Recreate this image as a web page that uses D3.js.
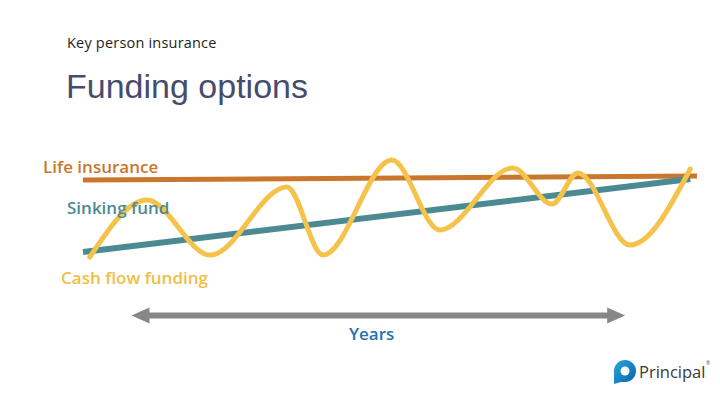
<!DOCTYPE html>
<html><head><meta charset="utf-8">
<script src="https://cdn.jsdelivr.net/npm/d3@7"></script>
<style>html,body{margin:0;padding:0;background:#fff;}svg{display:block;}</style>
</head><body>
<svg id="chart" width="720" height="405"></svg>
<script>
// ---- data ----
const timeDomain = [0, 100];
const valueDomain = [0, 100];
const lifeInsuranceT = [0, 100];
const lifeInsuranceV = [72.7, 76.4];
const sinkingFundT = [0, 98.9];
const sinkingFundV = [7.3, 73.6];
const cashFlowT = [1.1, 10.4, 20.7, 33.2, 39.1, 50.3, 58.1, 70.0, 76.4, 80.6, 89.1, 98.9];
const cashFlowV = [2.7, 54.5, 4.5, 66.4, 4.5, 90.9, 27.3, 83.6, 50.9, 79.1, 13.6, 82.7];
const seriesNames = ["Life insurance", "Sinking fund", "Cash flow funding"];
const axisLabel = "Years";
const yearsSpan = [7.9, 88.3];

const svg = d3.select("#chart");
const x = d3.scaleLinear().domain(timeDomain).range([83, 697]);
const y = d3.scaleLinear().domain(valueDomain).range([260, 150]);

// header
svg.append("text").attr("x", 67).attr("y", 48).text("Key person insurance")
  .attr("font-family", "Open Sans, sans-serif").attr("font-size", 14.5).attr("letter-spacing", 0.2).attr("fill", "#1e1e24");
svg.append("text").attr("x", 66).attr("y", 98).text("Funding options")
  .attr("font-family", "Liberation Sans, Arial, sans-serif").attr("font-size", 34).attr("fill", "#474c6d");

const line = d3.line().x(d => x(d[0])).y(d => y(d[1]));
const colors = ["#C8772C", "#4B8A93", "#F5C34B"];

svg.append("path").datum(d3.zip(lifeInsuranceT, lifeInsuranceV)).attr("d", line)
  .attr("fill", "none").attr("stroke", colors[0]).attr("stroke-width", 5);
svg.append("path").datum(d3.zip(sinkingFundT, sinkingFundV)).attr("d", line)
  .attr("fill", "none").attr("stroke", colors[1]).attr("stroke-width", 6);
svg.append("path").datum(d3.zip(cashFlowT, cashFlowV))
  .attr("d", line.curve(d3.curveMonotoneX))
  .attr("fill", "none").attr("stroke", colors[2]).attr("stroke-width", 5).attr("stroke-linecap", "round");

// series labels
const labelPos = [[43, 173], [67, 214], [61, 284]];
seriesNames.forEach((n, i) => {
  svg.append("text").attr("x", labelPos[i][0]).attr("y", labelPos[i][1]).text(n)
    .attr("font-family", "Open Sans, sans-serif").attr("font-weight", 600)
    .attr("font-size", 17).attr("fill", i === 2 ? "#F2BE45" : colors[i]);
});

// years arrow
const ay = 315.5;
const x0 = x(yearsSpan[0]), x1 = x(yearsSpan[1]);
svg.append("line").attr("x1", x0 + 10).attr("x2", x1 - 10).attr("y1", ay).attr("y2", ay)
  .attr("stroke", "#878787").attr("stroke-width", 6);
svg.append("path").attr("d", `M${x0},${ay} L${x0 + 18},${ay - 8} L${x0 + 18},${ay + 8} Z`).attr("fill", "#878787");
svg.append("path").attr("d", `M${x1},${ay} L${x1 - 18},${ay - 8} L${x1 - 18},${ay + 8} Z`).attr("fill", "#878787");
svg.append("text").attr("x", 349).attr("y", 340).text(axisLabel)
  .attr("font-family", "Open Sans, sans-serif").attr("font-weight", 600)
  .attr("font-size", 17).attr("fill", "#1F73B0");

// logo
const g = svg.append("g").attr("transform", "translate(625,371)");
const grad = svg.append("defs").append("linearGradient").attr("id", "lg").attr("x1", 0).attr("y1", 0).attr("x2", 1).attr("y2", 1);
grad.append("stop").attr("offset", 0).attr("stop-color", "#2aa9e0");
grad.append("stop").attr("offset", 1).attr("stop-color", "#0a5fa8");
g.append("path").attr("d", "M-11,13 L-11,0 A11,11 0 1 1 0,11 L-4,11 Z").attr("fill", "url(#lg)");
g.append("circle").attr("cx", 0).attr("cy", 0).attr("r", 4.5).attr("fill", "#fff");
svg.append("text").attr("x", 639).attr("y", 378).text("Principal")
  .attr("font-family", "Open Sans, sans-serif").attr("font-size", 16.5).attr("fill", "#3a3a3a");
svg.append("text").attr("x", 706).attr("y", 365).text("®")
  .attr("font-family", "Open Sans, sans-serif").attr("font-size", 5).attr("fill", "#555");
</script>
</body></html>
